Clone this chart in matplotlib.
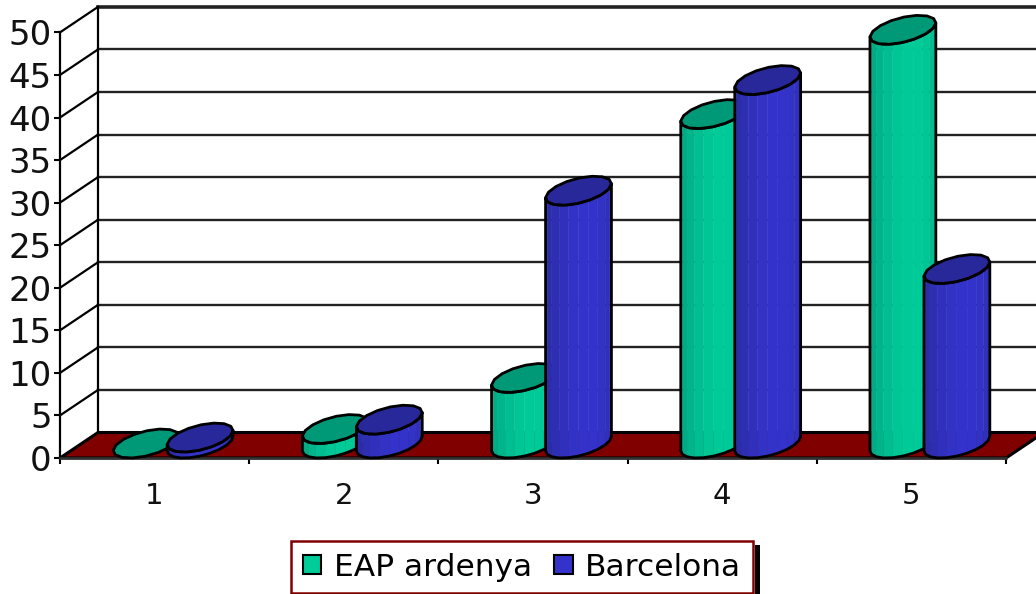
import numpy as np
import matplotlib
matplotlib.use('Agg')
import matplotlib.pyplot as plt
from matplotlib.patches import Patch, Polygon, Rectangle
from matplotlib.colors import to_rgb

# values
categorias = [1, 2, 3, 4, 5]
eap_ardenya = [0, 1.7, 7.7, 38.7, 48.6]
barcelona = [0.7, 2.8, 29.7, 42.7, 20.5]
yticks = [0, 5, 10, 15, 20, 25, 30, 35, 40, 45, 50]

W, H = 1036, 594
fig = plt.figure(figsize=(W / 100, H / 100), dpi=100, facecolor='white')
ax = fig.add_axes([60 / W, (H - 458) / H, 946 / W, 425.6 / H])
ax.set_xlim(0.5, 5.5)
ax.set_ylim(0, 50)
ax.patch.set_visible(False)

# pixels to data units, for the fake 3d depth
px = 5 / 946
py = 50 / 425.6
dx = 38 * px
dy = 25.5 * py
LW = 2.0

# floor
ax.add_patch(Polygon([(0.5, 0), (5.5, 0), (5.5 + dx, dy), (0.5 + dx, dy)],
                     closed=True, fc='#800000', ec='black', lw=2.2, clip_on=False, zorder=1))

# back wall and left wall lines
for v in yticks[1:]:
    lw = 2.6 if v == 50 else 1.7
    ax.plot([0.5 + dx, 5.5 + dx], [v + dy, v + dy], color='#222222', lw=lw, clip_on=False, zorder=1)
    ax.plot([0.5, 0.5 + dx], [v, v + dy], color='black', lw=1.6, clip_on=False, zorder=1)
ax.plot([0.5 + dx, 0.5 + dx], [dy, 50 + dy], color='black', lw=1.6, clip_on=False, zorder=1)


def cilindro(x0, valor, cor, escuro, topo):
    w = 57 * px
    d = 33 * px
    h = 29 * py
    cx = x0 + 33 * px
    cy = h / 2

    t = np.linspace(0, 2 * np.pi, 17)[:-1] + 0.1
    ex = cx + w / 2 * np.cos(t) + d / 2 * np.sin(t)
    ey = cy + h / 2 * np.sin(t)
    tampa = np.column_stack([ex, ey + valor])

    # front half of the cylinder, drawn in vertical strips
    t0 = np.arctan2(d, w) + np.pi
    frente = np.linspace(t0, t0 + np.pi, 11)
    fx = cx + w / 2 * np.cos(frente) + d / 2 * np.sin(frente)
    fy = cy + h / 2 * np.sin(frente)
    if valor > 0:
        c1, c2 = np.array(to_rgb(cor)), np.array(to_rgb(escuro))
        for i in range(len(frente) - 1):
            u = (i + 0.5) / (len(frente) - 1)
            k = np.clip(abs(u - 0.6) / 0.5, 0, 1) ** 1.5
            c = c1 * (1 - k) + c2 * k
            ax.add_patch(Polygon([(fx[i], fy[i]), (fx[i + 1], fy[i + 1]),
                                  (fx[i + 1], fy[i + 1] + valor), (fx[i], fy[i] + valor)],
                                 closed=True, fc=c, ec=c, lw=0.3, clip_on=False, zorder=3))
        contorno = np.column_stack([np.r_[fx, fx[::-1]], np.r_[fy, fy[::-1] + valor]])
        ax.add_patch(Polygon(contorno, closed=True, fc='none', ec='black', lw=LW,
                             clip_on=False, zorder=3, joinstyle='round'))
    ax.add_patch(Polygon(tampa, closed=True, fc=topo, ec='black', lw=LW,
                         clip_on=False, zorder=3, joinstyle='round'))


for i, cat in enumerate(categorias):
    cilindro(cat - 41.5 * px, eap_ardenya[i], '#00CC99', '#00A583', '#009977')
    cilindro(cat + 12.5 * px, barcelona[i], '#3333CC', '#2B2BA0', '#28289A')

# axes
for s in ['top', 'right']:
    ax.spines[s].set_visible(False)
ax.spines['left'].set_linewidth(1.6)
ax.spines['bottom'].set_linewidth(1.8)
ax.spines['bottom'].set_color('#333333')
ax.set_xticks(np.arange(0.5, 6, 1))
ax.set_xticklabels([])
ax.set_xticks(categorias, minor=True)
ax.set_xticklabels(categorias, minor=True, fontsize=21, color='#111111')
ax.tick_params(axis='x', which='major', length=4.5, width=1.5)
ax.tick_params(axis='x', which='minor', length=0, pad=17)
ax.set_yticks(yticks)
ax.set_yticklabels(yticks, fontsize=24.5, color='#111111')
ax.tick_params(axis='y', length=4, width=1.5, pad=2)

# legend, with its black shadow on the right
fig.add_artist(Rectangle((755 / W, 0), 5 / W, 49 / H, fc='black', ec='none', transform=fig.transFigure))
leg = fig.legend(handles=[Patch(fc='#00CC99', ec='black', lw=1.5, label='EAP ardenya'),
                          Patch(fc='#3333CC', ec='black', lw=1.5, label='Barcelona')],
                 loc='center', bbox_to_anchor=(522 / W, (H - 567) / H), ncol=2, fontsize=22.5,
                 frameon=True, fancybox=False, framealpha=1, edgecolor='#800000',
                 handlelength=0.6, handleheight=0.6, handletextpad=0.4, columnspacing=0.7,
                 borderpad=0.38, borderaxespad=0)
leg.get_frame().set_linewidth(1.8)

plt.savefig('out.png', dpi=100)
